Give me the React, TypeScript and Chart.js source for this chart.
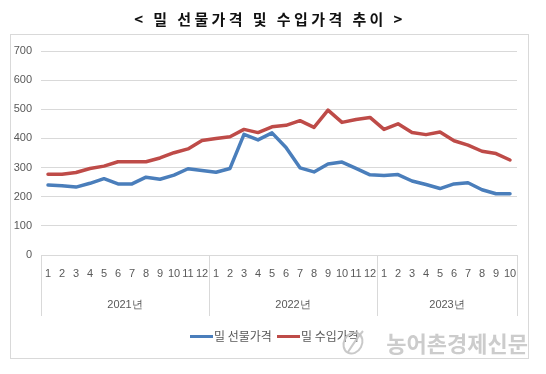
import React, { useEffect, useRef } from "react";
import { Chart, registerables } from "chart.js";

Chart.register(...registerables);

const years = ["2021년", "2022년", "2023년"];
const monthsPerYear = [12, 12, 10];
const yTicks = [0, 100, 200, 300, 400, 500, 600, 700];
const titleText = "< 밀 선물가격 및 수입가격 추이 >";
const seriesNames = ["밀 선물가격", "밀 수입가격"];
const watermark = "농어촌경제신문";

const futuresPrice = [
  240, 238, 233, 246, 262, 244, 244, 267, 260, 274, 296, 290,
  284, 297, 414, 395, 419, 369, 299, 285, 312, 319, 297, 275,
  273, 276, 254, 242, 228, 244, 248, 224, 210, 210,
];
const importPrice = [
  277, 277, 283, 297, 305, 320, 320, 320, 333, 351, 364, 393,
  400, 406, 431, 420, 440, 445, 461, 438, 497, 455, 465, 472,
  431, 450, 420, 413, 422, 392, 377, 356, 348, 326,
];

const BLUE = "#4A7EBB";
const RED = "#BE4B48";
const GRID = "#D9D9D9";
const TEXT = "#595959";

const categories: string[] = [];
const monthLabels: string[] = [];
years.forEach((y, yi) => {
  for (let m = 1; m <= monthsPerYear[yi]; m++) {
    categories.push(`${y}-${m}`);
    monthLabels.push(String(m));
  }
});

const decorPlugin = {
  id: "decor",
  afterDraw(chart: any) {
    const ctx = chart.ctx;
    const area = chart.chartArea;
    const xs = chart.scales.x;
    ctx.save();
    // outer frame
    ctx.strokeStyle = GRID;
    ctx.lineWidth = 1;
    ctx.strokeRect(10.5, 34.5, 518, 324);

    // title
    ctx.fillStyle = "#111111";
    ctx.font = 'bold 15px "Noto Sans CJK KR"';
    (ctx as any).letterSpacing = "3.4px";
    ctx.textAlign = "center";
    ctx.textBaseline = "middle";
    ctx.fillText(titleText, 270, 19);
    (ctx as any).letterSpacing = "0px";

    // year group separators and labels
    const bottom = area.bottom;
    ctx.strokeStyle = GRID;
    ctx.lineWidth = 1;
    let start = 0;
    const boundaries: number[] = [0];
    monthsPerYear.forEach((n) => {
      start += n;
      boundaries.push(start);
    });
    const bx = (i: number) => {
      if (i === 0) return area.left;
      if (i === categories.length) return area.right;
      return (xs.getPixelForValue(i - 1) + xs.getPixelForValue(i)) / 2;
    };
    boundaries.forEach((b) => {
      const x = Math.round(bx(b)) + 0.5;
      ctx.beginPath();
      ctx.moveTo(x, bottom);
      ctx.lineTo(x, bottom + 61);
      ctx.stroke();
    });
    ctx.fillStyle = TEXT;
    ctx.font = '11px "Liberation Sans Narrow", "Liberation Sans", sans-serif';
    ctx.textAlign = "center";
    ctx.textBaseline = "middle";
    years.forEach((y, i) => {
      const cx = (bx(boundaries[i]) + bx(boundaries[i + 1])) / 2;
      ctx.fillText(y, cx, bottom + 50);
    });

    // legend
    const ly = 336.5;
    const items = [
      { name: seriesNames[0], color: BLUE, x: 190 },
      { name: seriesNames[1], color: RED, x: 277 },
    ];
    ctx.font = '12px "Noto Sans CJK KR"';
    ctx.textAlign = "left";
    items.forEach((it) => {
      ctx.strokeStyle = it.color;
      ctx.lineWidth = 3;
      ctx.beginPath();
      ctx.moveTo(it.x, ly);
      ctx.lineTo(it.x + 23, ly);
      ctx.stroke();
      ctx.fillStyle = TEXT;
      ctx.fillText(it.name, it.x + 24, ly);
    });

    // watermark
    ctx.strokeStyle = "rgba(195,195,195,0.9)";
    ctx.lineWidth = 2;
    ctx.beginPath();
    ctx.ellipse(353, 343, 9, 11, 0.5, 0, Math.PI * 2);
    ctx.stroke();
    ctx.beginPath();
    ctx.moveTo(348, 352);
    ctx.quadraticCurveTo(357, 338, 363, 331);
    ctx.stroke();
    ctx.fillStyle = "rgba(200,200,200,0.92)";
    ctx.font = 'bold 22px "Noto Sans CJK KR"';
    ctx.textAlign = "right";
    ctx.textBaseline = "middle";
    ctx.fillText(watermark, 528, 344);
    ctx.restore();
  },
};

export default function App() {
  const ref = useRef<HTMLCanvasElement | null>(null);
  useEffect(() => {
    if (!ref.current) return;
    const chart = new Chart(ref.current, {
      type: "line",
      data: {
        labels: categories,
        datasets: [
          {
            label: seriesNames[0],
            data: futuresPrice,
            borderColor: BLUE,
            backgroundColor: BLUE,
            borderWidth: 3.5,
            pointRadius: 0,
            tension: 0,
            borderJoinStyle: "round",
            borderCapStyle: "round",
          },
          {
            label: seriesNames[1],
            data: importPrice,
            borderColor: RED,
            backgroundColor: RED,
            borderWidth: 3.5,
            pointRadius: 0,
            tension: 0,
            borderJoinStyle: "round",
            borderCapStyle: "round",
          },
        ],
      },
      options: {
        responsive: false,
        animation: false,
        devicePixelRatio: 1,
        layout: { padding: { left: 10, right: 29, top: 51, bottom: 49 } },
        plugins: {
          legend: { display: false },
          title: { display: false },
          tooltip: { enabled: false },
        },
        scales: {
          x: {
            type: "category",
            offset: true,
            grid: { display: false, drawTicks: false },
            border: { display: false },
            ticks: {
              autoSkip: false,
              maxRotation: 0,
              padding: 12,
              color: TEXT,
              font: { family: '"Liberation Sans Narrow", "Liberation Sans", sans-serif', size: 11 },
              callback: (_v: any, i: number) => monthLabels[i],
            },
            afterFit: (s: any) => {
              s.height = 70;
            },
          },
          y: {
            min: 0,
            max: 700,
            afterBuildTicks: (s: any) => {
              s.ticks = yTicks.map((v) => ({ value: v }));
            },
            grid: { color: GRID, lineWidth: 1, drawTicks: false },
            border: { display: false },
            ticks: {
              padding: 9,
              color: TEXT,
              font: { family: '"Liberation Sans Narrow", "Liberation Sans", sans-serif', size: 11 },
            },
            afterFit: (s: any) => {
              s.width = 31;
            },
          },
        },
      },
      plugins: [decorPlugin],
    });
    return () => chart.destroy();
  }, []);
  return (
    <div style={{ position: "fixed", left: 0, top: 0, width: 546, height: 374, background: "#fff" }}>
      <canvas ref={ref} width={546} height={374} style={{ width: 546, height: 374, display: "block" }} />
    </div>
  );
}
